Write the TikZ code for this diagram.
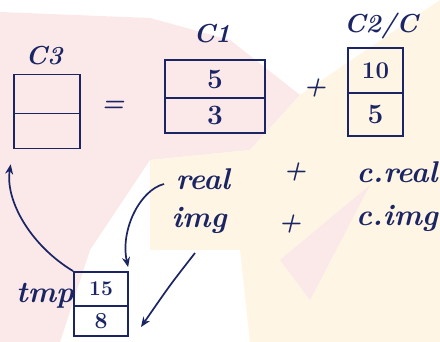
\documentclass[tikz,border=0pt]{standalone}
\usepackage{fontspec}
\usetikzlibrary{arrows.meta}
\definecolor{inkc}{HTML}{1B2563}
\definecolor{pinkbg}{HTML}{FBE9E9}
\definecolor{creambg}{HTML}{FEF5E4}
\begin{document}
\begin{tikzpicture}[x=1pt,y=-1pt,
  ink/.style={draw=inkc, line width=1.9pt},
  cell/.style={ink, inner sep=0pt, text=inkc, font=\bfseries\fontsize{28}{32}\selectfont},
  lbl/.style={text=inkc, inner sep=1pt, font=\bfseries\itshape\fontsize{26}{30}\selectfont},
  expr/.style={text=inkc, inner sep=1pt, font=\bfseries\itshape\fontsize{30}{34}\selectfont},
  arr/.style={draw=inkc, line width=1.7pt, -{Stealth[length=10pt,width=8pt]}}]
\useasboundingbox (0,0) rectangle (440,342);
% background
\fill[white] (0,0) rectangle (440,342);
\fill[pinkbg] (0,12) -- (150,18) -- (230,40) -- (300,95) -- (250,150) -- (150,160) -- (90,250) -- (60,342) -- (0,342) -- cycle;
\fill[creambg] (300,95) -- (440,0) -- (440,342) -- (250,342) -- (240,250) -- (150,250) -- (150,160) -- (250,150) -- cycle;
\fill[pinkbg] (280,260) -- (370,185) -- (310,300) -- cycle;
% C3
\node[cell, minimum width=66pt, minimum height=39pt] (c3A) at (47,94) {};
\node[cell, minimum width=66pt, minimum height=35pt] (c3B) at (47,131) {};
\node[lbl] (c3L) at (44,56) {C3};
\node[lbl] (eq) at (113,106) {=};
% C1
\node[cell, minimum width=100pt, minimum height=38pt] (c1A) at (215,79) {5};
\node[cell, minimum width=100pt, minimum height=35pt] (c1B) at (215,115.5) {3};
\node[lbl] (c1L) at (212,34) {C1};
\node[lbl] (pl1) at (315,88) {+};
% C2/C
\node[cell, minimum width=55pt, minimum height=45pt, font=\bfseries\fontsize{24}{28}\selectfont] (c2A) at (375.5,70.5) {10};
\node[cell, minimum width=55pt, minimum height=43pt] (c2B) at (375.5,114.5) {5};
\node[lbl] (c2L) at (381,26) {C2/C};
% expressions
\node[expr] (real) at (203,179) {real};
\node[lbl] (pl2) at (295,172) {+};
\node[expr] (creal) at (397,172) {c.real};
\node[expr] (img) at (199,220) {img};
\node[lbl] (pl3) at (290,224) {+};
\node[expr] (cimg) at (397,218) {c.img};
% tmp
\node[cell, minimum width=54pt, minimum height=34pt, font=\bfseries\fontsize{21}{24}\selectfont] (tA) at (101,289) {15};
\node[cell, minimum width=54pt, minimum height=30pt, font=\bfseries\fontsize{23}{26}\selectfont] (tB) at (101,321) {8};
\node[expr, anchor=east] (tmpL) at (75,296) {tmp};
% arrows
\coordinate (rs) at (164,184);
\coordinate (is) at (195,253);
\coordinate (ie) at (141,327);
\draw[arr, shorten >=15pt] (tA.north west) .. controls (30,245) and (5,200) .. (c3B.south west);
\draw[arr, shorten >=4pt] (rs) .. controls (140,190) and (120,230) .. (tA.north east);
\draw[arr] (is) .. controls (170,285) .. (ie);
\end{tikzpicture}
\end{document}
